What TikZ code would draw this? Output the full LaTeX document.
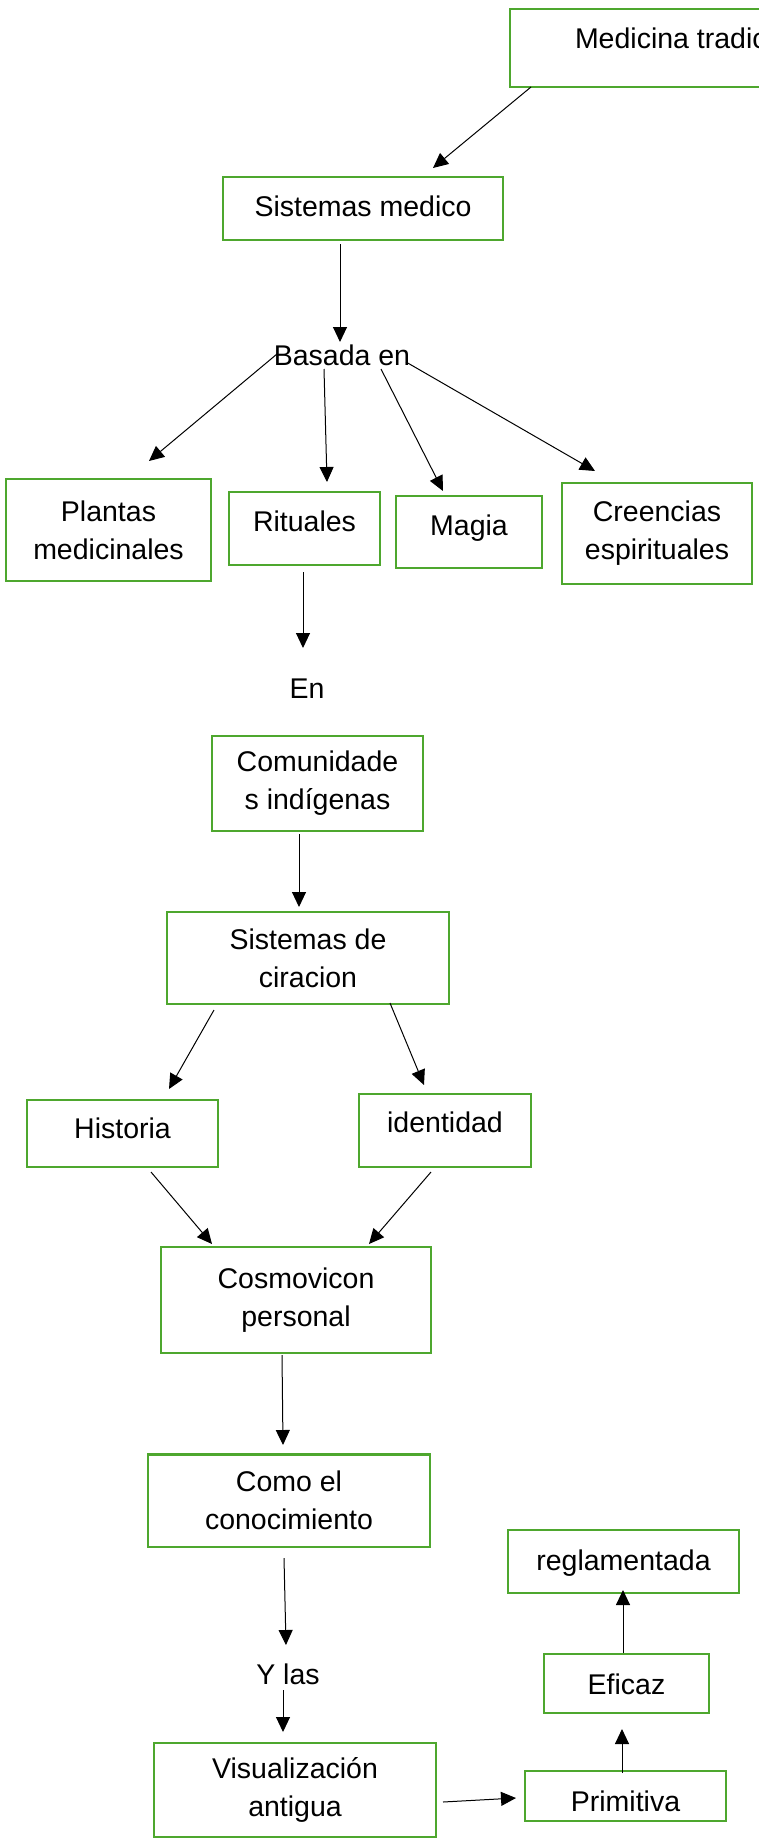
\documentclass[tikz,border=0pt]{standalone}
\usepackage{fontspec}
\setmainfont{Liberation Sans}
\usetikzlibrary{arrows.meta}
\definecolor{boxgreen}{HTML}{4EA72E}
\tikzset{
  box/.style={draw=boxgreen, line width=2.7pt, inner sep=0pt, outer sep=0pt,
    align=center, anchor=north west, font=\fontsize{28.5}{38}\selectfont},
  lbl/.style={inner sep=0pt, outer sep=0pt, font=\fontsize{28.5}{38}\selectfont},
  arr/.style={line width=1pt, -{Triangle[length=15pt,width=14pt]}},
}
\begin{document}
\begin{tikzpicture}[x=1pt,y=-1pt]
\path[use as bounding box, fill=white] (0,0) rectangle (759,1839);
\clip (0,0) rectangle (759,1839);

% nodes
\node[box, minimum height=78, text height=21pt, text depth=21pt, align=left, inner xsep=65pt] (med) at (510,9) {Medicina tradic};
\node[box, minimum width=280, minimum height=63, text height=21pt, text depth=6pt] (sm) at (223,177) {Sistemas medico};
\node[lbl] (bas) at (342,355) {Basada en};
\node[box, minimum width=205, minimum height=102] (pla) at (6,479) {Plantas\\medicinales};
\node[box, minimum width=151, minimum height=73, text height=21pt, text depth=15pt] (rit) at (229,492) {Rituales};
\node[box, minimum width=146, minimum height=72, text height=21pt, text depth=15pt] (mag) at (396,496) {Magia};
\node[box, minimum width=190, minimum height=101] (cre) at (562,483) {Creencias\\espirituales};
\node[lbl] (en) at (307,689) {En};
\node[box, minimum width=211, minimum height=95] (com) at (212,736) {Comunidade\\s indígenas};
\node[box, minimum width=282, minimum height=92] (sdc) at (167,912) {Sistemas de\\ciracion};
\node[box, minimum width=191, minimum height=67, text height=21pt, text depth=11pt] (his) at (27,1100) {Historia};
\node[box, minimum width=172, minimum height=73, text height=21pt, text depth=17pt] (ide) at (359,1094) {identidad};
\node[box, minimum width=270, minimum height=106] (cos) at (161,1247) {Cosmovicon\\personal};
\node[box, minimum width=282, minimum height=92.5] (como) at (148,1454.5) {Como el\\conocimiento};
\node[lbl] (yl) at (288,1674) {Y las};
\node[box, minimum width=282, minimum height=94] (vis) at (154,1743) {Visualización\\antigua};
\node[box, minimum width=201, minimum height=50, text height=30pt, text depth=0pt] (pri) at (525,1771) {Primitiva};
\node[box, minimum width=165, minimum height=59, text height=21pt, text depth=0pt] (efi) at (544,1654) {Eficaz};
\node[box, minimum width=231, minimum height=63, text height=21pt, text depth=3pt] (reg) at (508,1530) {reglamentada};

% connectors
\draw[arr] ([xshift=21pt]med.south west) -- ([xshift=210pt,yshift=9pt]sm.north west);
\draw[arr] ([xshift=-23pt,yshift=-4pt]sm.south) -- ([xshift=-2pt,yshift=13pt]bas.center);
\draw[arr] ([xshift=-65pt,yshift=1pt]bas.center) -- ([xshift=143pt,yshift=18pt]pla.north west);
\draw[arr] ([xshift=-18pt,yshift=-14pt]bas.center) -- ([xshift=98pt,yshift=10pt]rit.north west);
\draw[arr] ([xshift=39pt,yshift=-14pt]bas.center) -- ([xshift=47pt,yshift=5pt]mag.north west);
\draw[arr] ([xshift=64pt,yshift=-7pt]bas.center) -- ([xshift=33pt,yshift=12pt]cre.north west);
\draw[arr] ([xshift=74pt,yshift=-7pt]rit.south west) -- ([xshift=-4pt,yshift=41pt]en.center);
\draw[arr] ([xshift=87pt,yshift=-3pt]com.south west) -- ([xshift=132pt,yshift=5pt]sdc.north west);
\draw[arr] ([xshift=47pt,yshift=-6pt]sdc.south west) -- ([xshift=142pt,yshift=11pt]his.north west);
\draw[arr] ([xshift=223pt,yshift=1pt]sdc.south west) -- ([xshift=65pt,yshift=9pt]ide.north west);
\draw[arr] ([xshift=124pt,yshift=-5pt]his.south west) -- ([xshift=51pt,yshift=3pt]cos.north west);
\draw[arr] ([xshift=72pt,yshift=-5pt]ide.south west) -- ([xshift=208pt,yshift=3pt]cos.north west);
\draw[arr] ([xshift=121pt,yshift=-2pt]cos.south west) -- ([xshift=135pt,yshift=9.5pt]como.north west);
\draw[arr] ([xshift=136pt,yshift=-11pt]como.south west) -- ([xshift=-2pt,yshift=29pt]yl.center);
\draw[arr] ([xshift=-5pt,yshift=-16pt]yl.center) -- ([xshift=129pt,yshift=11pt]vis.north west);
\draw[arr] ([xshift=7pt,yshift=-59pt]vis.north east) -- ([xshift=-9pt,yshift=-27pt]pri.north west);
\draw[arr] ([xshift=97pt,yshift=-2pt]pri.north west) -- ([xshift=78pt,yshift=-16pt]efi.south west);
\draw[arr] ([xshift=79pt,yshift=1pt]efi.north west) -- ([xshift=115pt,yshift=3pt]reg.south west);
\end{tikzpicture}
\end{document}
